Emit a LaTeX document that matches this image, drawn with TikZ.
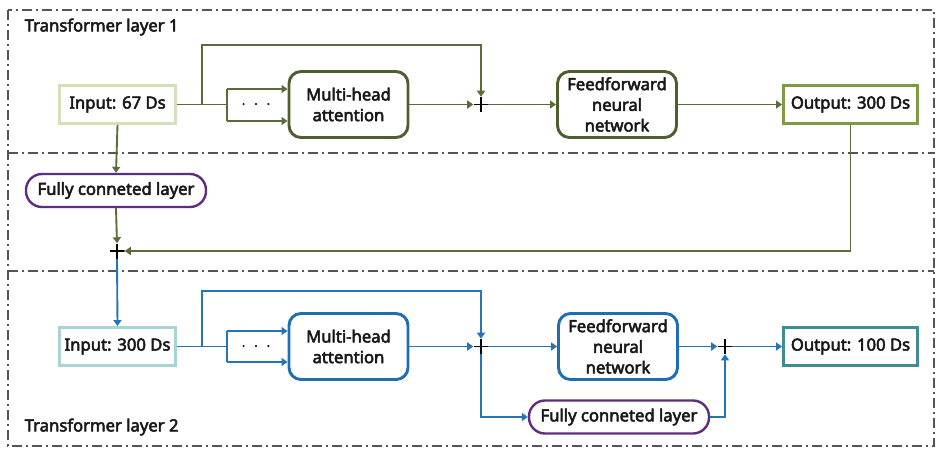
\documentclass[tikz,border=0pt]{standalone}
\usepackage{fontspec}
\setmainfont{Noto Sans}
\usetikzlibrary{arrows.meta}
\newdimen\pxu \pxu=0.75pt
\newcommand\heavytext{\special{pdf:literal direct 0.4 w 1 j 2 Tr}}
\definecolor{olive}{HTML}{5B6B3A}
\definecolor{mhaol}{HTML}{4F5E2E}
\definecolor{inoneb}{HTML}{D3E0BA}
\definecolor{outoneb}{HTML}{7F9A45}
\definecolor{intwob}{HTML}{A8D4D8}
\definecolor{blueln}{HTML}{2574B8}
\definecolor{bluebox}{HTML}{1F6DB3}
\definecolor{outtwob}{HTML}{3F8C94}
\definecolor{purp}{HTML}{5E2D82}
\definecolor{framec}{HTML}{555555}
\begin{document}
\begin{tikzpicture}[x=0.75pt,y=-0.75pt,
  txt/.style={font=\fontsize{12.5pt}{15.5pt}\selectfont\heavytext, text=black!90},
  box/.style={txt, draw, line width=2.2pt, align=center, inner sep=0pt},
  sqbox/.style={box, minimum width=116\pxu, minimum height=38\pxu},
  rbox/.style={box, rounded corners=9pt, minimum width=119\pxu, minimum height=66\pxu},
  fcbox/.style={box, draw=purp, line width=1.8pt, rounded corners=12pt, minimum width=180\pxu, minimum height=33\pxu},
  plusn/.style={inner sep=0pt, minimum size=15\pxu, path picture={
     \draw[black, line width=1.3pt] (path picture bounding box.north) -- (path picture bounding box.south)
       (path picture bounding box.west) -- (path picture bounding box.east);}},
  arr/.style={line width=1.4pt, -{Triangle[width=6pt,length=4.5pt]}},
  ln/.style={line width=1.4pt},
  frame/.style={draw=framec, line width=1.1pt, dash pattern=on 7.5pt off 3pt on 1.5pt off 3pt},
]
\useasboundingbox (0,0) rectangle (939,454);
% frame
\draw[frame] (8,10) rectangle (934,446);
\draw[frame] (8,153) -- (934,153);
\draw[frame] (8,271) -- (934,271);
\node[txt, anchor=west] (lab1) at (20,27) {Transformer layer 1};
\node[txt, anchor=west] (lab2) at (20,427) {Transformer layer 2};

% layer 1 nodes
\node[sqbox, draw=inoneb] (in1) at (117.5,104.5) {Input: 67 Ds};
\node[rbox, draw=mhaol] (mha1) at (348.5,104.5) {Multi-head\\attention};
\node[plusn] (p1) at (481,104.5) {};
\node[rbox, draw=mhaol] (ff1) at (617,104.5) {Feedforward\\neural\\network};
\node[sqbox, draw=outoneb, minimum width=134\pxu] (out1) at (850.5,104.5) {Output: 300 Ds};
\node[fcbox] (fc1) at (116,190.5) {Fully conneted layer};
\node[plusn] (p0) at (117,251) {};
\node[txt] (dots1) at (256,104.5) {$\cdot\;\cdot\;\cdot$};
\coordinate (b1) at (202,104.5);
\coordinate (s1) at (227,104.5);
\coordinate (s1a) at (227,89);
\coordinate (s1b) at (227,121);
\coordinate (t1) at (481,45);

% layer 1 connectors
\begin{scope}[draw=olive, color=olive]
\draw[ln] (in1.east) -- (s1);
\draw[ln] (s1a) -- (s1b);
\draw[arr] (s1a) -- (s1a -| mha1.west);
\draw[arr] (s1b) -- (s1b -| mha1.west);
\draw[arr] (b1) |- (t1) -- (p1.north);
\draw[arr] (mha1.east) -- (p1.west);
\draw[arr] (p1.east) -- (ff1.west);
\draw[arr] (ff1.east) -- (out1.west);
\draw[arr] (out1.south) |- (p0.east);
\draw[arr] (in1.south) -- (fc1.north);
\draw[arr] (fc1.south) -- (p0.north);
\end{scope}

% layer 2 nodes
\node[sqbox, draw=intwob] (in2) at (117.5,346.5) {Input: 300 Ds};
\node[rbox, draw=bluebox] (mha2) at (348.5,346.5) {Multi-head\\attention};
\node[plusn] (p2) at (481,346.5) {};
\node[rbox, draw=bluebox] (ff2) at (618,346.5) {Feedforward\\neural\\network};
\node[plusn] (p3) at (725,346.5) {};
\node[sqbox, draw=outtwob, minimum width=134\pxu] (out2) at (850.5,346.5) {Output: 100 Ds};
\node[fcbox] (fc2) at (619,417) {Fully conneted layer};
\node[txt] (dots2) at (256,346.5) {$\cdot\;\cdot\;\cdot$};
\coordinate (b2) at (202,346.5);
\coordinate (s2) at (227,346.5);
\coordinate (s2a) at (227,331);
\coordinate (s2b) at (227,362);
\coordinate (t2) at (481,291);

% layer 2 connectors
\begin{scope}[draw=blueln, color=blueln]
\draw[arr] (p0.south) -- (in2.north);
\draw[ln] (in2.east) -- (s2);
\draw[ln] (s2a) -- (s2b);
\draw[arr] (s2a) -- (s2a -| mha2.west);
\draw[arr] (s2b) -- (s2b -| mha2.west);
\draw[arr] (b2) |- (t2) -- (p2.north);
\draw[arr] (mha2.east) -- (p2.west);
\draw[arr] (p2.east) -- (ff2.west);
\draw[arr] (p2.south) |- (fc2.west);
\draw[arr] (ff2.east) -- (p3.west);
\draw[arr] (fc2.east) -| (p3.south);
\draw[arr] (p3.east) -- (out2.west);
\end{scope}
\end{tikzpicture}
\end{document}
